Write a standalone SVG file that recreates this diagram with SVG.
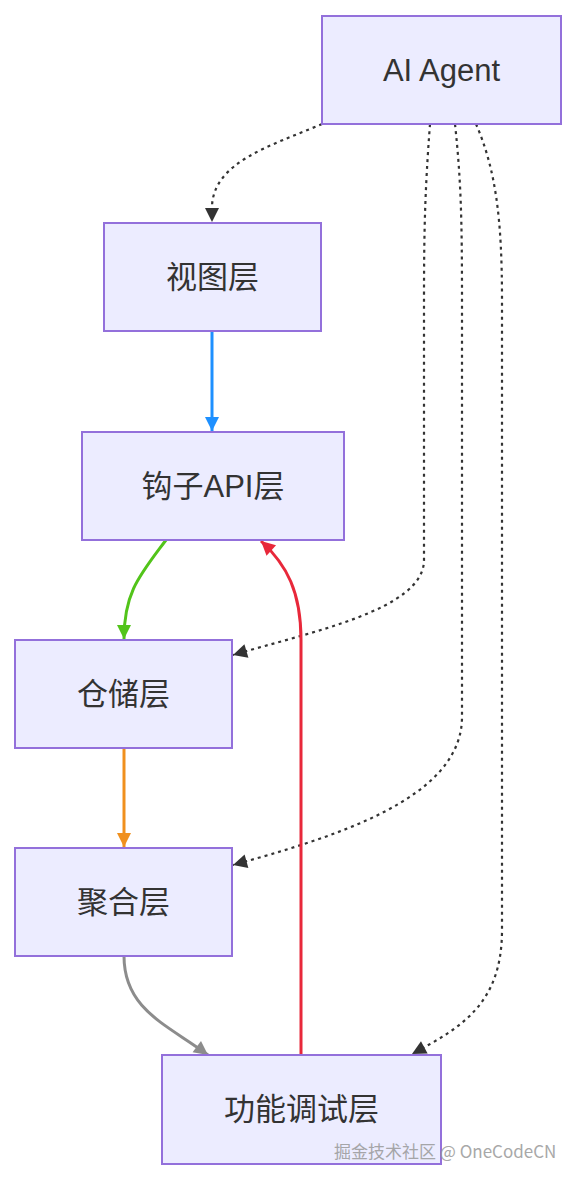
<svg xmlns="http://www.w3.org/2000/svg" width="577" height="1180" viewBox="0 0 577 1180">
<style>
.node rect{fill:#ECECFF;stroke:#9370DB;stroke-width:2}
.node text{font-family:"Liberation Sans","Noto Sans CJK SC",sans-serif;font-size:31px;fill:#333;text-anchor:middle;dominant-baseline:central}
.dot{fill:none;stroke:#333;stroke-width:2.2;stroke-dasharray:3 4}
.solid{fill:none;stroke-width:3}
.wm{font-family:"Noto Sans CJK SC","Liberation Sans",sans-serif;font-size:17px;fill:#999;opacity:.85}
</style>
<defs>
<marker id="ab" markerUnits="userSpaceOnUse" markerWidth="17" markerHeight="17" refX="15" refY="8.5" orient="auto"><path d="M1,1.5 L15,8.5 L1,15.5 Z" fill="#333"/></marker>
<marker id="ablue" markerUnits="userSpaceOnUse" markerWidth="17" markerHeight="17" refX="15" refY="8.5" orient="auto"><path d="M1,1.5 L15,8.5 L1,15.5 Z" fill="#1E90FF"/></marker>
<marker id="agreen" markerUnits="userSpaceOnUse" markerWidth="17" markerHeight="17" refX="15" refY="8.5" orient="auto"><path d="M1,1.5 L15,8.5 L1,15.5 Z" fill="#52C41A"/></marker>
<marker id="ared" markerUnits="userSpaceOnUse" markerWidth="17" markerHeight="17" refX="15" refY="8.5" orient="auto"><path d="M1,1.5 L15,8.5 L1,15.5 Z" fill="#E8283A"/></marker>
<marker id="aorange" markerUnits="userSpaceOnUse" markerWidth="17" markerHeight="17" refX="15" refY="8.5" orient="auto"><path d="M1,1.5 L15,8.5 L1,15.5 Z" fill="#F0901E"/></marker>
<marker id="agray" markerUnits="userSpaceOnUse" markerWidth="17" markerHeight="17" refX="15" refY="8.5" orient="auto"><path d="M1,1.5 L15,8.5 L1,15.5 Z" fill="#8C8C8C"/></marker>
</defs>
<rect width="577" height="1180" fill="#fff"/>
<g id="edges">
<path class="dot" d="M322,124 C270,146 214,162 212,206 L212,222" marker-end="url(#ab)"/>
<path class="dot" d="M430,124 C425,190 424,230 424,300 L424,560 C424,610 310,632 233,655" marker-end="url(#ab)"/>
<path class="dot" d="M455,124 C461,180 462,220 462,300 L462,717 C462,800 330,838 233,865" marker-end="url(#ab)"/>
<path class="dot" d="M476,124 C496,170 502,220 502,300 L502,930 C502,1005 460,1028 412,1054" marker-end="url(#ab)"/>
<path class="solid" stroke="#1E90FF" d="M212,331 L212,431" marker-end="url(#ablue)"/>
<path class="solid" stroke="#52C41A" d="M166,540 C140,575 124,592 124,639" marker-end="url(#agreen)"/>
<path class="solid" stroke="#E8283A" d="M301,1055 L301,640 C301,592 287,565 261,541" marker-end="url(#ared)"/>
<path class="solid" stroke="#F0901E" d="M124,748 L124,847" marker-end="url(#aorange)"/>
<path class="solid" stroke="#8C8C8C" d="M124,956 C124,1010 168,1025 208,1055" marker-end="url(#agray)"/>
</g>
<g id="agent" class="node"><rect x="322" y="16" width="239" height="108"/><text x="441.5" y="70">AI Agent</text></g>
<g id="view" class="node"><rect x="104" y="223" width="217" height="108"/><text x="212.5" y="277">视图层</text></g>
<g id="hook" class="node"><rect x="82" y="432" width="262" height="108"/><text x="213" y="486">钩子API层</text></g>
<g id="repo" class="node"><rect x="15" y="640" width="217" height="108"/><text x="123.5" y="694">仓储层</text></g>
<g id="agg" class="node"><rect x="15" y="848" width="217" height="108"/><text x="123.5" y="902">聚合层</text></g>
<g id="debug" class="node"><rect x="162" y="1055" width="279" height="109"/><text x="301.5" y="1109">功能调试层</text></g>
<text class="wm" x="334" y="1158">掘金技术社区 @ OneCodeCN</text>
</svg>
